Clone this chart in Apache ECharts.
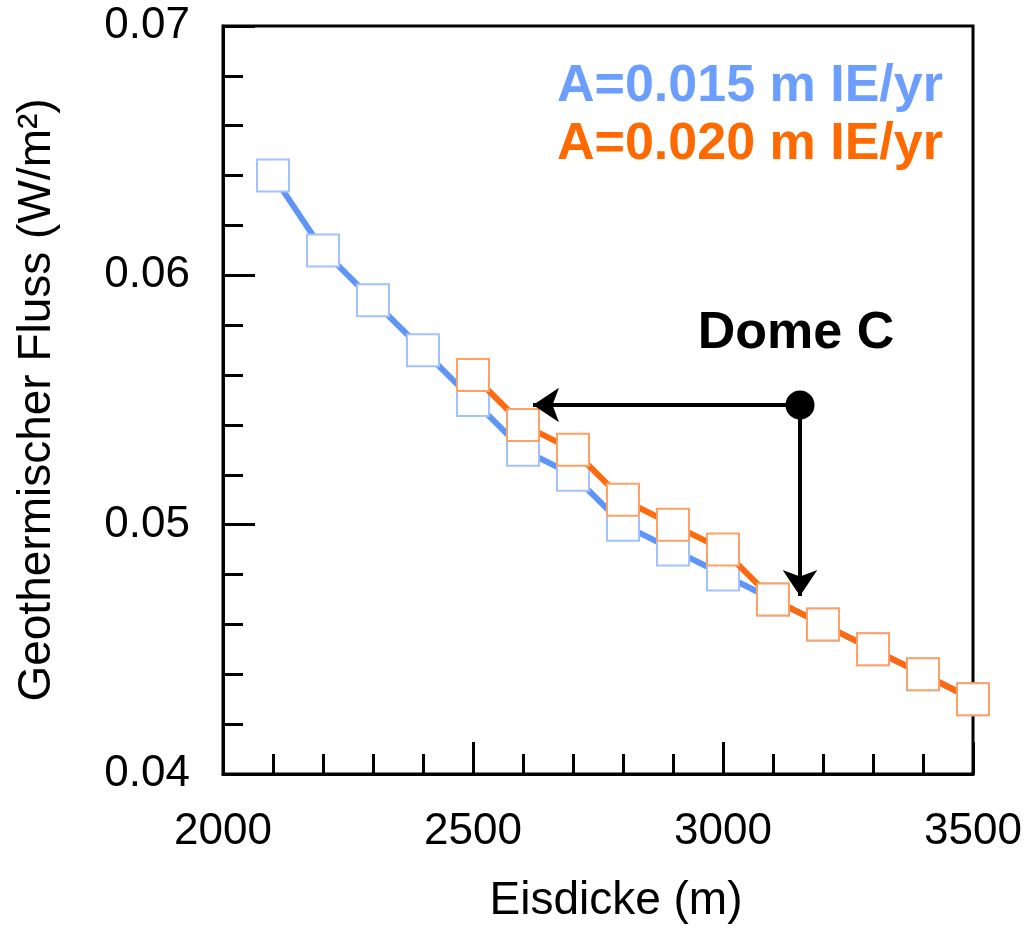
<!DOCTYPE html>
<html>
<head>
<meta charset="utf-8">
<script src="https://cdn.jsdelivr.net/npm/echarts@6/dist/echarts.min.js"></script>
<style>
  html, body { margin: 0; padding: 0; background: #fff; }
  #chart { width: 1028px; height: 929px; }
</style>
</head>
<body>
<div id="chart"></div>
<script>
// Ice thickness (m) and geothermal flux (W/m²) for two accumulation rates
const thicknessA015 = [2100, 2200, 2300, 2400, 2500, 2600, 2700, 2800, 2900, 3000, 3100, 3200, 3300, 3400, 3500];
const fluxA015 = [0.064, 0.061, 0.059, 0.057, 0.055, 0.053, 0.052, 0.050, 0.049, 0.048, 0.047, 0.046, 0.045, 0.044, 0.043];
const thicknessA020 = [2500, 2600, 2700, 2800, 2900, 3000, 3100, 3200, 3300, 3400, 3500];
const fluxA020 = [0.056, 0.054, 0.053, 0.051, 0.050, 0.049, 0.047, 0.046, 0.045, 0.044, 0.043];

const seriesNames = ['A=0.015 m IE/yr', 'A=0.020 m IE/yr'];

// Dome C site and where its arrows point
const domeC = [3154, 0.0548];
const domeCArrowX = 2620;
const domeCArrowY = 0.04714;

const xTicks = { min: 2000, max: 3500, interval: 500 };
const yTicks = { min: 0.04, max: 0.07, interval: 0.01 };

const pairs = (xs, ys) => xs.map((x, i) => [x, ys[i]]);

const FONT = 'Liberation Sans, Arial, sans-serif';
const BLUE_LINE = '#5f95f7', BLUE_MARK = '#a2c2ff', BLUE_TEXT = '#6c9eff';
const ORANGE_LINE = '#ff6a10', ORANGE_MARK = '#ffa066', ORANGE_TEXT = '#ff6a00';

const chart = echarts.init(document.getElementById('chart'), null, { renderer: 'canvas' });

chart.setOption({
  backgroundColor: '#fff',
  animation: false,
  grid: {
    left: 223, right: 55, top: 26, bottom: 151,
    show: true, borderColor: '#000', borderWidth: 3, backgroundColor: 'transparent'
  },
  legend: {
    orient: 'vertical',
    left: 551, top: 61,
    padding: 0,
    itemWidth: 0, itemHeight: 0, itemGap: 6,
    selectedMode: false,
    itemStyle: { opacity: 0 },
    lineStyle: { opacity: 0 },
    textStyle: { fontFamily: FONT, fontSize: 52, fontWeight: 'bold' },
    data: [
      { name: seriesNames[0], textStyle: { color: BLUE_TEXT } },
      { name: seriesNames[1], textStyle: { color: ORANGE_TEXT } }
    ]
  },
  xAxis: {
    type: 'value',
    min: xTicks.min, max: xTicks.max, interval: xTicks.interval,
    name: 'Eisdicke (m)',
    nameLocation: 'middle',
    nameGap: 104,
    nameTextStyle: { fontFamily: FONT, fontSize: 46, color: '#000', padding: [0, 0, 0, 36] },
    axisLine: { show: true, onZero: false, lineStyle: { color: '#000', width: 3 } },
    axisTick: { show: true, inside: true, length: 32, lineStyle: { color: '#000', width: 3 } },
    minorTick: { show: true, splitNumber: 5, length: 20, lineStyle: { color: '#000', width: 3 } },
    axisLabel: {
      fontFamily: FONT, fontSize: 44, color: '#000', margin: 36,
      formatter: v => String(v)
    },
    splitLine: { show: false },
    minorSplitLine: { show: false }
  },
  yAxis: {
    type: 'value',
    min: yTicks.min, max: yTicks.max, interval: yTicks.interval,
    name: 'Geothermischer Fluss (W/m²)',
    nameLocation: 'middle',
    nameGap: 163,
    nameTextStyle: { fontFamily: FONT, fontSize: 46, color: '#000' },
    axisLine: { show: true, onZero: false, lineStyle: { color: '#000', width: 3 } },
    axisTick: { show: true, inside: true, length: 32, lineStyle: { color: '#000', width: 3 } },
    minorTick: { show: true, splitNumber: 5, length: 20, lineStyle: { color: '#000', width: 3 } },
    axisLabel: {
      fontFamily: FONT, fontSize: 44, color: '#000', margin: 33,
      formatter: v => v.toFixed(2)
    },
    splitLine: { show: false },
    minorSplitLine: { show: false }
  },
  series: [
    {
      name: seriesNames[0],
      type: 'line',
      z: 2,
      data: pairs(thicknessA015, fluxA015),
      symbol: 'rect',
      symbolSize: 32,
      showAllSymbol: true,
      lineStyle: { color: BLUE_LINE, width: 6 },
      itemStyle: { color: '#fff', borderColor: BLUE_MARK, borderWidth: 2 },
      emphasis: { disabled: true }
    },
    {
      name: seriesNames[1],
      type: 'line',
      z: 3,
      data: pairs(thicknessA020, fluxA020),
      symbol: 'rect',
      symbolSize: 32,
      showAllSymbol: true,
      lineStyle: { color: ORANGE_LINE, width: 6 },
      itemStyle: { color: '#fff', borderColor: ORANGE_MARK, borderWidth: 2 },
      emphasis: { disabled: true }
    },
    {
      name: 'Dome C',
      type: 'scatter',
      z: 5,
      data: [domeC],
      symbol: 'circle',
      symbolSize: 29,
      itemStyle: { color: '#000', opacity: 1 },
      label: {
        show: true,
        formatter: 'Dome C',
        position: 'top',
        distance: 31,
        offset: [-4, 0],
        fontFamily: FONT, fontSize: 52, fontWeight: 'bold', color: '#000'
      },
      emphasis: { disabled: true },
      markLine: {
        silent: true,
        symbol: ['none', 'arrow'],
        symbolSize: [26, 26],
        lineStyle: { color: '#000', width: 4, type: 'solid', opacity: 1 },
        label: { show: false },
        emphasis: { disabled: true },
        data: [
          [{ coord: domeC }, { coord: [domeCArrowX, domeC[1]] }],
          [{ coord: domeC }, { coord: [domeC[0], domeCArrowY] }]
        ]
      }
    }
  ]
});
</script>
</body>
</html>
